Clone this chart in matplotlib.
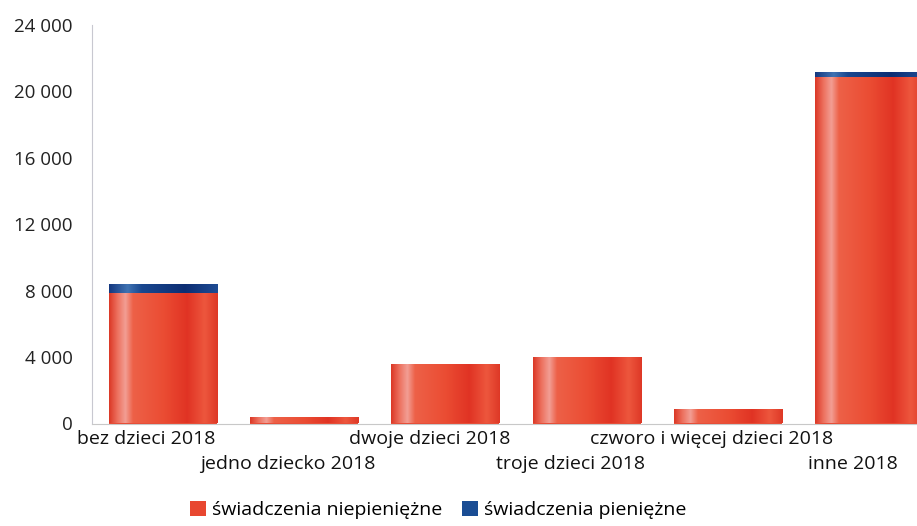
import numpy as np
import matplotlib
matplotlib.use("Agg")
import matplotlib.pyplot as plt
import matplotlib.transforms as mtransforms
from matplotlib.patches import Patch
from matplotlib.colors import LinearSegmentedColormap

categories = ["bez dzieci 2018", "jedno dziecko 2018", "dwoje dzieci 2018",
              "troje dzieci 2018", "czworo i więcej dzieci 2018", "inne 2018"]
niepieniezne = [7850, 400, 3600, 4000, 900, 20850]
pieniezne = [550, 0, 0, 0, 0, 330]
yticks = [0, 4000, 8000, 12000, 16000, 20000, 24000]
ytick_labels = ["0", "4 000", "8 000", "12 000", "16 000", "20 000", "24 000"]
legend_labels = ["świadczenia niepieniężne", "świadczenia pieniężne"]

plt.rcParams['font.family'] = ['Open Sans', 'DejaVu Sans']

W, H = 917, 526
fig = plt.figure(figsize=(W / 100, H / 100), dpi=100)
ax = fig.add_axes([92 / W, (H - 423.5) / H, (940 - 92) / W, (423.5 - 25) / H])

red_cmap = LinearSegmentedColormap.from_list("r", [
    (0.00, (0.86, 0.22, 0.15)),
    (0.08, (0.93, 0.45, 0.38)),
    (0.15, (0.95, 0.62, 0.58)),
    (0.22, (0.93, 0.38, 0.28)),
    (0.50, (0.92, 0.30, 0.20)),
    (0.72, (0.88, 0.20, 0.14)),
    (0.88, (0.93, 0.34, 0.24)),
    (1.00, (0.87, 0.22, 0.15)),
])
blue_cmap = LinearSegmentedColormap.from_list("b", [
    (0.00, (0.08, 0.22, 0.50)),
    (0.17, (0.25, 0.45, 0.70)),
    (0.30, (0.10, 0.28, 0.56)),
    (0.70, (0.05, 0.18, 0.45)),
    (1.00, (0.12, 0.30, 0.58)),
])
grad = np.linspace(0, 1, 256).reshape(1, -1)

x = np.arange(len(categories))
width = 0.765
b1 = ax.bar(x, niepieniezne, width, color=(0.91, 0.28, 0.19), zorder=2)
b2 = ax.bar(x, pieniezne, width, bottom=niepieniezne, color=(0.08, 0.22, 0.50), zorder=2)

for bars, cmap in ((b1, red_cmap), (b2, blue_cmap)):
    for r in bars:
        if r.get_height() <= 0:
            r.set_visible(False)
            continue
        x0, y0 = r.get_x(), r.get_y()
        im = ax.imshow(grad, cmap=cmap, aspect='auto', zorder=3,
                       extent=[x0, x0 + r.get_width(), y0, y0 + r.get_height()],
                       interpolation='bilinear')
        im.set_clip_path(r)

ax.set_xlim(-0.5, len(categories) - 0.5)
ax.set_ylim(0, 24000)
ax.set_yticks(yticks)
ax.set_yticklabels(ytick_labels, fontsize=13.5, color='#222222')
ax.tick_params(axis='y', length=0, pad=14)
ax.set_xticks([])
for s in ('top', 'right'):
    ax.spines[s].set_visible(False)
ax.spines['left'].set_color('#c8c8d0')
ax.spines['bottom'].set_color('#c8c8c8')
ax.spines['left'].set_linewidth(0.8)
ax.spines['bottom'].set_linewidth(0.8)

trans = mtransforms.blended_transform_factory(ax.transData, ax.transAxes)
off = mtransforms.ScaledTranslation(-16 / 100, 0, fig.dpi_scale_trans)
for i, lab in enumerate(categories):
    yy = -0.016 if i % 2 == 0 else -0.080
    ax.text(i, yy, lab, transform=trans + off, ha='center', va='top',
            fontsize=14, color='#111111')

handles = [Patch(facecolor=(0.91, 0.28, 0.19)), Patch(facecolor=(0.10, 0.30, 0.58))]
fig.legend(handles, legend_labels, loc='center', bbox_to_anchor=(438 / W, 1 - 510 / H),
           ncol=2, frameon=False, fontsize=14, handlelength=0.85, handleheight=0.85,
           handletextpad=0.3, columnspacing=1.0)

fig.savefig("out.png", dpi=100)
